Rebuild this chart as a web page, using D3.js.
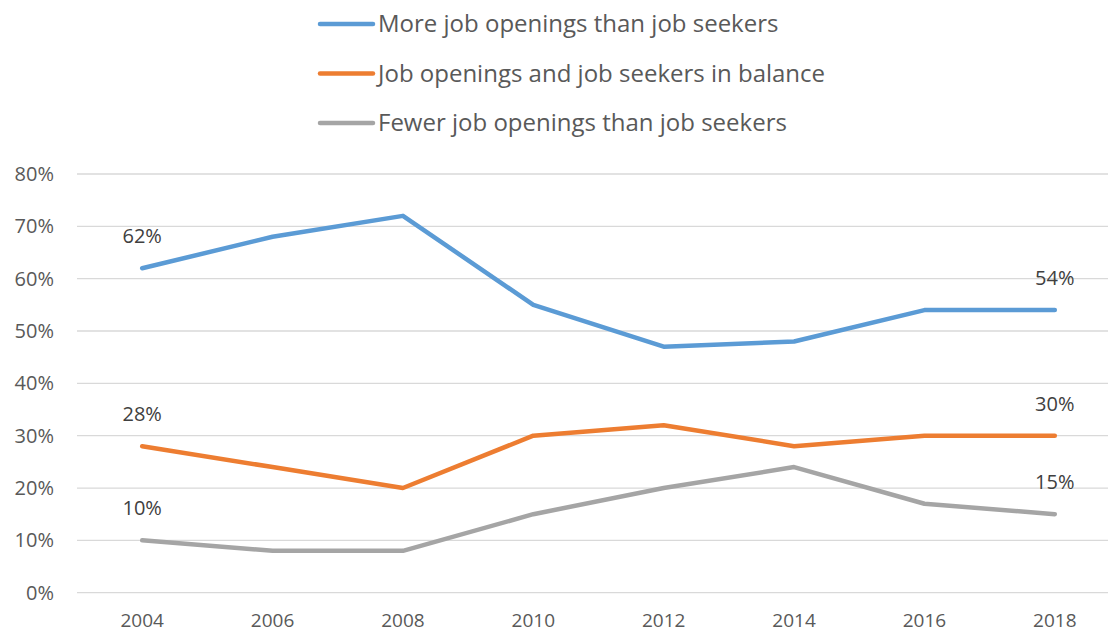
<!DOCTYPE html>
<html>
<head>
<meta charset="utf-8">
<script src="https://cdn.jsdelivr.net/npm/d3@7"></script>
<style>
  body { margin: 0; background: #fff; }
  svg { display: block; font-family: "Open Sans", sans-serif; }
</style>
</head>
<body>
<div id="chart"></div>
<script>
var years = ["2004", "2006", "2008", "2010", "2012", "2014", "2016", "2018"];
var moreOpenings = [62, 68, 72, 55, 47, 48, 54, 54];
var inBalance = [28, 24, 20, 30, 32, 28, 30, 30];
var fewerOpenings = [10, 8, 8, 15, 20, 24, 17, 15];
var yTicks = [0, 10, 20, 30, 40, 50, 60, 70, 80];

var series = [
  {name: "More job openings than job seekers", values: moreOpenings, color: "#5B9BD5"},
  {name: "Job openings and job seekers in balance", values: inBalance, color: "#ED7D31"},
  {name: "Fewer job openings than job seekers", values: fewerOpenings, color: "#A5A5A5"}
];

var width = 1108, height = 633;
var svg = d3.select("#chart").append("svg").attr("width", width).attr("height", height);

var x = d3.scaleBand().domain(years).range([77, 1120]);
var y = d3.scaleLinear().domain([0, 80]).range([592.7, 174]);

// gridlines
svg.append("g").selectAll("line").data(yTicks).enter().append("line")
  .attr("x1", 77).attr("x2", width)
  .attr("y1", function(d){ return y(d) }).attr("y2", function(d){ return y(d) })
  .attr("stroke", "#d9d9d9").attr("stroke-width", 1.3);

// y tick labels
svg.append("g").selectAll("text").data(yTicks).enter().append("text")
  .attr("x", 54).attr("y", function(d){ return y(d) })
  .attr("dy", "0.35em")
  .style("text-anchor", "end").style("font-size", "20px").style("fill", "#595959")
  .text(function(d){ return d + "%" });

// x tick labels
svg.append("g").selectAll("text").data(years).enter().append("text")
  .attr("x", function(d){ return x(d) + x.bandwidth() / 2 }).attr("y", 627)
  .style("text-anchor", "middle").style("font-size", "19px").style("fill", "#595959")
  .text(function(d){ return d });

var line = d3.line()
  .x(function(d, i){ return x(years[i]) + x.bandwidth() / 2 })
  .y(function(d){ return y(d) });

svg.append("g").selectAll("path").data(series).enter().append("path")
  .attr("d", function(d){ return line(d.values) })
  .attr("fill", "none")
  .attr("stroke", function(d){ return d.color })
  .attr("stroke-width", 4.5)
  .attr("stroke-linecap", "round")
  .attr("stroke-linejoin", "round");

// data labels at first and last points
var labels = [];
series.forEach(function(s){
  labels.push({i: 0, v: s.values[0]});
  labels.push({i: years.length - 1, v: s.values[years.length - 1]});
});
svg.append("g").selectAll("text").data(labels).enter().append("text")
  .attr("x", function(d){ return x(years[d.i]) + x.bandwidth() / 2 })
  .attr("y", function(d){ return y(d.v) - 32 })
  .attr("dy", "0.35em")
  .style("text-anchor", "middle").style("font-size", "20px").style("fill", "#404040")
  .text(function(d){ return d.v + "%" });

// legend
var legend = svg.append("g").selectAll("g").data(series).enter().append("g")
  .attr("transform", function(d, i){ return "translate(318," + (24 + i * 49.5) + ")" });
legend.append("line")
  .attr("x1", 2).attr("x2", 55)
  .attr("stroke", function(d){ return d.color })
  .attr("stroke-width", 4.5).attr("stroke-linecap", "round");
legend.append("text")
  .attr("x", 60).attr("dy", "0.35em")
  .style("font-size", "24px").style("fill", "#595959")
  .text(function(d){ return d.name });
</script>
</body>
</html>
